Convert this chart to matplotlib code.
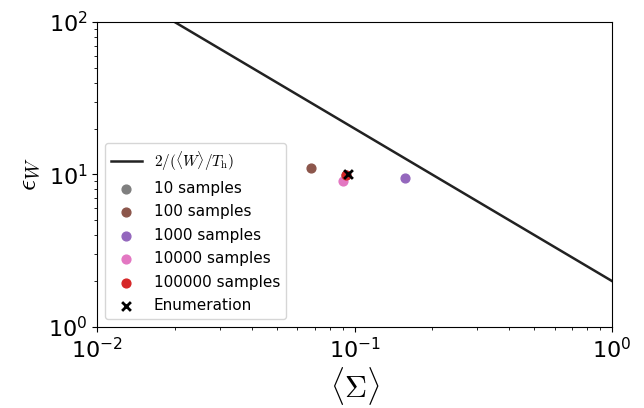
#!/usr/bin/env python3
"""Error of the work estimate vs mean entropy production, log-log."""

import matplotlib

matplotlib.use("Agg")
import matplotlib.pyplot as plt
import numpy as np
from matplotlib.ticker import FuncFormatter

plt.rcParams["mathtext.fontset"] = "cm"

# bound line 2/(<W>/T_h)
bound_sigma = [0.01, 1.0]

sample_labels = ["10 samples", "100 samples", "1000 samples",
                 "10000 samples", "100000 samples"]
sample_colors = ["C7", "C5", "C4", "C6", "C3"]
sample_sigma = [0.093, 0.068, 0.157, 0.090, 0.093]
sample_eps = [9.95, 11.0, 9.5, 9.05, 9.95]

enum_sigma = 0.094
enum_eps = 10.0


def _log_fmt(val, pos):
    return r"$\mathregular{10^{%d}}$" % int(np.round(np.log10(val)))


fig = plt.figure(figsize=(6.44, 4.08), dpi=100)
ax = fig.add_axes([0.151, 0.199, 0.799, 0.747])

xs = np.array(bound_sigma)
ax.plot(xs, 2.0 / xs, color="#222222", lw=1.8, label=r"$2/(\langle W\rangle/T_\mathrm{h})$")
for s, e, c, lab in zip(sample_sigma, sample_eps, sample_colors, sample_labels):
    ax.scatter([s], [e], color=c, s=40, label=lab, zorder=3)
ax.scatter([enum_sigma], [enum_eps], color="k", marker="x", s=40, lw=2,
           label="Enumeration", zorder=4)

ax.set_xscale("log")
ax.set_yscale("log")
ax.set_xlim(1e-2, 1.0)
ax.set_ylim(1.0, 1e2)
ax.xaxis.set_major_formatter(FuncFormatter(_log_fmt))
ax.yaxis.set_major_formatter(FuncFormatter(_log_fmt))
ax.tick_params(labelsize=16)
ax.set_xlabel(r"$\langle\Sigma\rangle$", fontsize=22, labelpad=2)
ax.set_ylabel(r"$\epsilon_W$", fontsize=20)

ax.legend(loc="lower left", fontsize=11, handlelength=2.0, labelspacing=0.55,
          borderaxespad=0.5)

fig.savefig("out.png", dpi=100)
